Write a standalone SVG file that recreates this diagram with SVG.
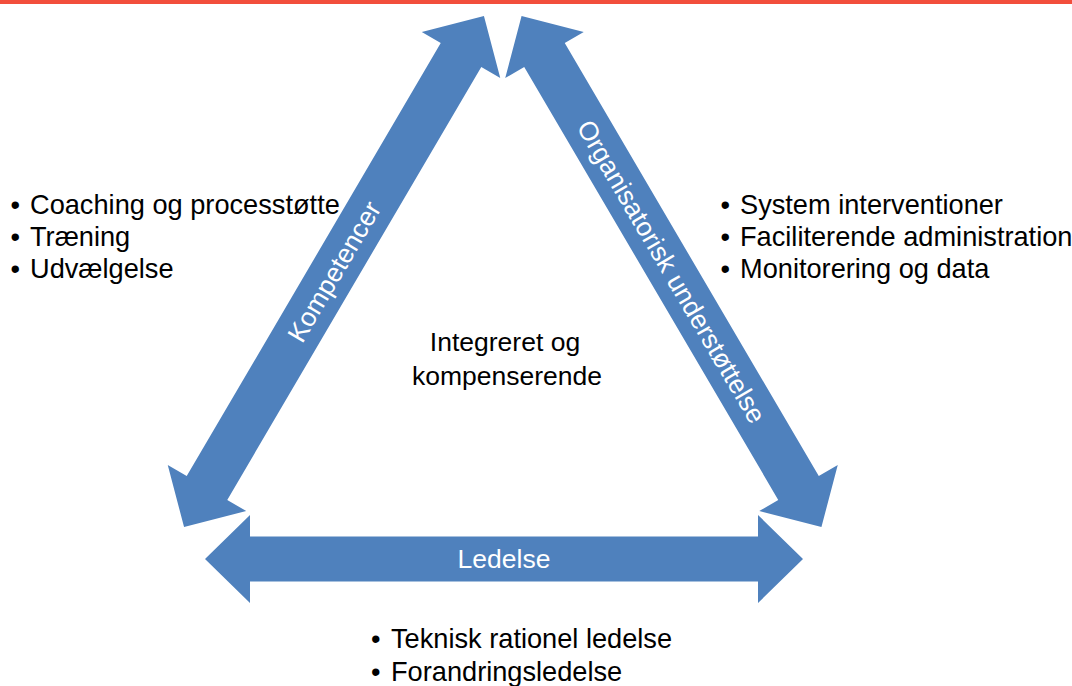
<svg xmlns="http://www.w3.org/2000/svg" width="1072" height="686" viewBox="0 0 1072 686">
  <style>
    .arrow { fill: #4f81bd; stroke: none; }
    .lbl { font-family: "Liberation Sans", Arial, sans-serif; font-size: 26.5px; fill: #ffffff; text-anchor: middle; }
    .txt { font-family: "Liberation Sans", Arial, sans-serif; font-size: 27.2px; fill: #000000; }
    .ctr { text-anchor: middle; font-size: 26.5px; }
  </style>
  <rect x="0" y="0" width="1072" height="686" fill="#ffffff"/>
  <rect x="0" y="0" width="1072" height="4" fill="#f24e3c"/>

  <g id="connectors">
    <g id="arrow-kompetencer" transform="translate(334,271.5) rotate(-59.6)">
      <path class="arrow" d="M-296.3,0 L-251,-45.5 L-251,-23.5 L251,-23.5 L251,-45.5 L296.3,0 L251,45.5 L251,23.5 L-251,23.5 L-251,45.5 Z"/>
      <text class="lbl" x="0" y="9.3">Kompetencer</text>
    </g>
    <g id="arrow-organisatorisk" transform="translate(671.5,271.5) rotate(59.6)">
      <path class="arrow" d="M-296.3,0 L-251,-45.5 L-251,-23.5 L251,-23.5 L251,-45.5 L296.3,0 L251,45.5 L251,23.5 L-251,23.5 L-251,45.5 Z"/>
      <text class="lbl" x="0" y="9.3">Organisatorisk understøttelse</text>
    </g>
    <g id="arrow-ledelse" transform="translate(504,559)">
      <path class="arrow" d="M-299,0 L-254,-44 L-254,-22.5 L254,-22.5 L254,-44 L299,0 L254,44 L254,22.5 L-254,22.5 L-254,44 Z"/>
      <text class="lbl" x="0" y="9.3">Ledelse</text>
    </g>
  </g>

  <g id="center">
    <text class="txt ctr" x="505" y="351">Integreret og</text>
    <text class="txt ctr" x="507" y="384.5">kompenserende</text>
  </g>

  <g id="list-left">
    <text class="txt" x="10.5" y="213.5">•</text><text class="txt" x="30" y="213.5">Coaching og processtøtte</text>
    <text class="txt" x="10.5" y="245.5">•</text><text class="txt" x="30" y="245.5">Træning</text>
    <text class="txt" x="10.5" y="277.5">•</text><text class="txt" x="30" y="277.5">Udvælgelse</text>
  </g>

  <g id="list-right">
    <text class="txt" x="720.5" y="213.5">•</text><text class="txt" x="740" y="213.5">System interventioner</text>
    <text class="txt" x="720.5" y="245.5">•</text><text class="txt" x="740" y="245.5">Faciliterende administration</text>
    <text class="txt" x="720.5" y="277.5">•</text><text class="txt" x="740" y="277.5">Monitorering og data</text>
  </g>

  <g id="list-bottom">
    <text class="txt" x="371" y="648">•</text><text class="txt" x="391" y="648">Teknisk rationel ledelse</text>
    <text class="txt" x="371" y="681">•</text><text class="txt" x="391" y="681">Forandringsledelse</text>
  </g>
</svg>
